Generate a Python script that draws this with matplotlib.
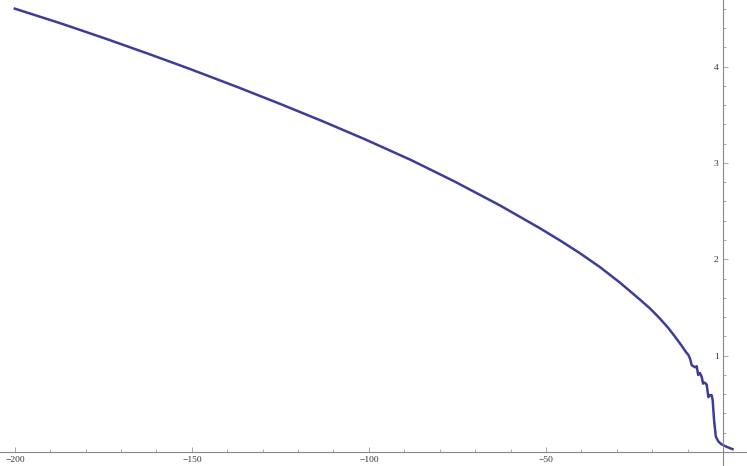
import matplotlib
matplotlib.use("Agg")
from matplotlib import pyplot as plt
from matplotlib.ticker import MultipleLocator, FuncFormatter

# values
x_vals = [-200, -187, -174.6, -162, -150.6, -137, -125, -113, -101, -88, -75.7, -63,
          -51.7, -46.0, -40.4, -34.7, -29.1, -23.4, -20.6, -17.8, -15.5, -13.6, -11.8,
          -10.3, -9.8, -9.3, -8.8, -7.9, -7.4, -7.0, -6.5, -6.0,
          -5.6, -5.1, -4.6, -4.1, -3.7, -3.2, -2.9, -2.5, -2.0, -1.3, -0.4, 1.0, 2.7]
y_vals = [4.6, 4.447, 4.292, 4.128, 3.975, 3.785, 3.611, 3.431, 3.243, 3.028, 2.805, 2.559,
          2.322, 2.195, 2.063, 1.918, 1.758, 1.58, 1.49, 1.385, 1.29, 1.20, 1.11,
          1.03, 1.01, 0.97, 0.90, 0.88, 0.89, 0.80, 0.82, 0.78,
          0.71, 0.72, 0.70, 0.57, 0.59, 0.59, 0.54, 0.33, 0.16, 0.11, 0.08, 0.055, 0.03]

x_major = [-200, -150, -100, -50]
y_major = [1, 2, 3, 4]

fig = plt.figure(figsize=(7.47, 4.66), dpi=100)
ax = fig.add_axes([0, 0, 1, 1])
ax.plot(x_vals, y_vals, color='#3d3d99', lw=1.8, solid_joinstyle='round')

ax.set_xlim(-204.2, 6.8)
ax.set_ylim(-0.145, 4.69)

for s in ['top', 'right']:
    ax.spines[s].set_visible(False)
ax.spines['left'].set_position(('data', 0))
ax.spines['bottom'].set_position(('data', 0))
ax.spines['left'].set_color('#888888')
ax.spines['bottom'].set_color('#888888')
ax.spines['left'].set_linewidth(0.8)
ax.spines['bottom'].set_linewidth(0.8)

ax.set_xticks(x_major)
ax.set_yticks(y_major)
ax.xaxis.set_minor_locator(MultipleLocator(10))
ax.yaxis.set_minor_locator(MultipleLocator(0.2))
fmt = FuncFormatter(lambda v, p: ('\u2212%g' % -v) if v < 0 else '%g' % v)
ax.xaxis.set_major_formatter(fmt)

ax.tick_params(which='both', direction='in', color='#999999', width=0.6,
               labelsize=6.8, labelcolor='#333333', pad=3)
ax.tick_params(which='major', length=3.5)
ax.tick_params(which='minor', length=2)
for lab in ax.get_xticklabels() + ax.get_yticklabels():
    lab.set_family('Liberation Serif')

fig.savefig('out.png', dpi=100)
